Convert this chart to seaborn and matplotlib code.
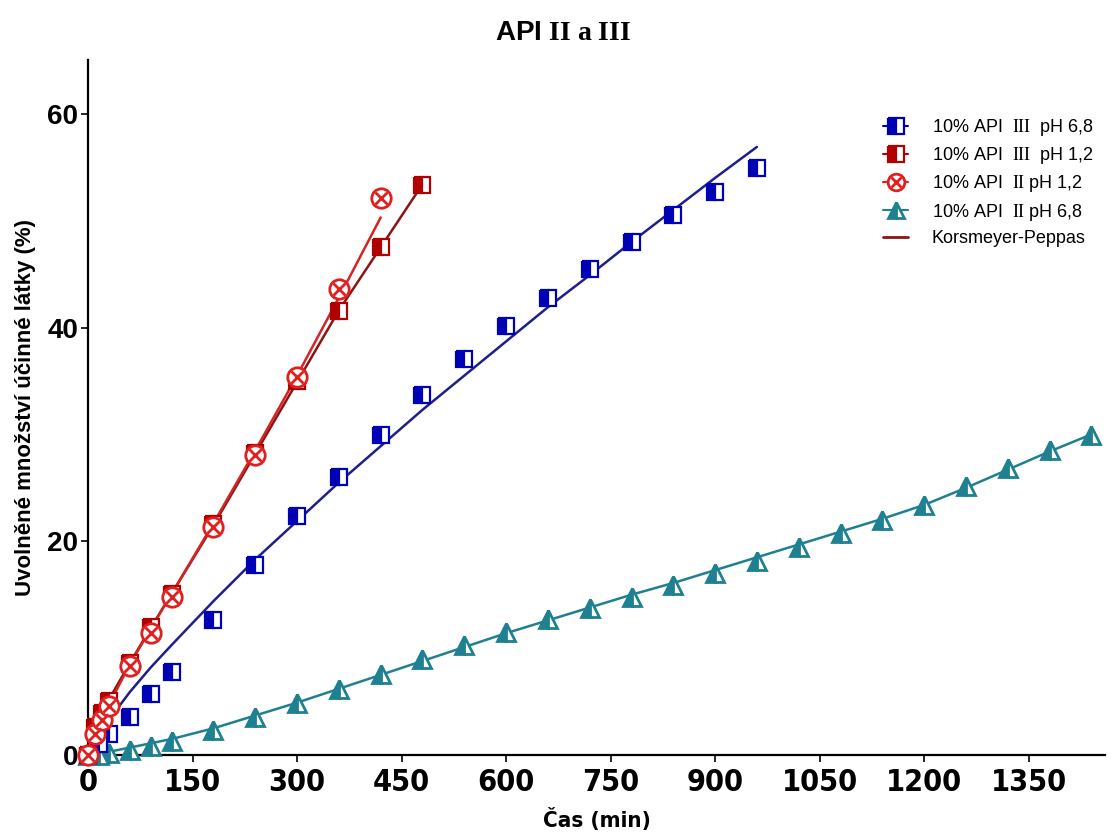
import numpy as np
import pandas as pd
import matplotlib
matplotlib.use("Agg")
import matplotlib.pyplot as plt
import seaborn as sns
from matplotlib.lines import Line2D
from matplotlib.legend_handler import HandlerTuple
from matplotlib import font_manager as fm

# ---------------- data ----------------
t_b = [0, 15, 30, 60, 90, 120, 180, 240, 300, 360, 420, 480, 540, 600, 660, 720, 780, 840, 900, 960]
v_b = [0, 1.0, 2.0, 3.6, 5.7, 7.8, 12.6, 17.8, 22.4, 26.0, 29.9, 33.7, 37.1, 40.1, 42.8, 45.5, 48.0, 50.5, 52.7, 54.9]
fit_b = [0, 1.9, 3.3, 5.9, 8.2, 10.3, 14.4, 18.3, 21.9, 25.5, 28.9, 32.3, 35.5, 38.7, 41.9, 44.9, 48.0, 51.0, 54.0, 56.9]

t_r3 = [0, 10, 20, 30, 60, 90, 120, 180, 240, 300, 360, 420, 480]
v_r3 = [0, 2.6, 3.9, 5.1, 8.6, 12.0, 15.1, 21.6, 28.3, 35.0, 41.5, 47.5, 53.3]
fit_r3 = [0, 2.4, 3.9, 5.2, 8.6, 11.9, 15.1, 21.5, 28.2, 34.9, 41.6, 47.5, 53.4]

t_r2 = [0, 10, 20, 30, 60, 90, 120, 180, 240, 300, 360, 420]
v_r2 = [0, 2.0, 3.3, 4.6, 8.3, 11.4, 14.8, 21.3, 28.1, 35.4, 43.6, 52.1]
fit_r2 = [0, 2.0, 3.4, 4.7, 8.5, 11.8, 15.1, 21.7, 28.5, 35.5, 42.8, 50.3]

t_t = [0, 15, 30, 60, 90, 120, 180, 240, 300, 360, 420, 480, 540, 600, 660, 720, 780, 840,
       900, 960, 1020, 1080, 1140, 1200, 1260, 1320, 1380, 1440]
v_t = [0, 0.05, 0.15, 0.5, 0.8, 1.3, 2.3, 3.6, 4.9, 6.2, 7.6, 9.0, 10.3, 11.5, 12.7, 13.8, 14.8, 15.9,
       17.0, 18.2, 19.5, 20.8, 22.0, 23.4, 25.2, 26.9, 28.5, 29.9]
fit_t = [0, 0.1, 0.3, 0.7, 1.1, 1.5, 2.5, 3.7, 4.9, 6.2, 7.5, 8.8, 10.1, 11.4, 12.6, 13.8, 15.0, 16.1,
         17.3, 18.5, 19.7, 20.9, 22.1, 23.4, 25.0, 26.7, 28.4, 30.0]

labels = [r"10% API  $\mathrm{III}$  pH 6,8",
          r"10% API  $\mathrm{III}$  pH 1,2",
          r"10% API  $\mathrm{II}$ pH 1,2",
          r"10% API  $\mathrm{II}$ pH 6,8",
          "Korsmeyer-Peppas"]
x_ticks = [0, 150, 300, 450, 600, 750, 900, 1050, 1200, 1350]
y_ticks = [0, 20, 40, 60]
title_txt = r"API $\mathbf{II\ a\ III}$"
xlabel_txt = "Čas (min)"
ylabel_txt = "Uvolněné množství účinné látky (%)"

# ---------------- style ----------------
sns.set_theme(style="white")
plt.rcParams["font.family"] = ["Liberation Sans", "DejaVu Sans"]
plt.rcParams["mathtext.fontset"] = "custom"
plt.rcParams["mathtext.rm"] = "Liberation Serif"
plt.rcParams["mathtext.it"] = "Liberation Serif:italic"
plt.rcParams["mathtext.bf"] = "Liberation Serif:bold"
for k in ["text.color", "axes.labelcolor", "xtick.color", "ytick.color"]:
    plt.rcParams[k] = "black"

# condensed face for the x axis, if one is installed
narrow_kw = {"fontfamily": "Liberation Sans"}
for f in fm.fontManager.ttflist:
    if f.name == "Liberation Sans Narrow":
        narrow_kw = {"fontfamily": "Liberation Sans Narrow"}
        break
else:
    for f in fm.fontManager.ttflist:
        if f.name == "DejaVu Sans" and str(f.stretch) in ("condensed", "semi-condensed") and f.weight in ("bold", 700):
            narrow_kw = {"fontfamily": "DejaVu Sans", "fontstretch": "condensed"}
            break

C_BLUE = "#0000B4"
C_BLUE_L = "#1E1E8C"
C_DRED = "#B00000"
C_DRED_L = "#8B1414"
C_RED = "#E0201E"
C_RED_L = "#D42424"
C_TEAL = "#1E8090"

fig = plt.figure(figsize=(11.16, 8.38), dpi=100)
ax = fig.add_axes([0.0789, 0.099, 0.9115, 0.829])

df = pd.DataFrame
# fit lines
for t, f, c in [(t_t, fit_t, C_TEAL), (t_b, fit_b, C_BLUE_L), (t_r3, fit_r3, C_DRED_L), (t_r2, fit_r2, C_RED_L)]:
    sns.lineplot(data=df({"t": t, "v": f}), x="t", y="v", ax=ax, color=c, lw=1.8,
                 estimator=None, sort=False, legend=False, zorder=2)

# markers
def marks(t, v, **kw):
    sns.lineplot(data=df({"t": t, "v": v}), x="t", y="v", ax=ax, linestyle="",
                 estimator=None, sort=False, legend=False, clip_on=False, zorder=3, **kw)

marks(t_t, v_t, color=C_TEAL, marker="^", markersize=13, fillstyle="left",
      markerfacecolor=C_TEAL, markerfacecoloralt="white", markeredgecolor=C_TEAL, markeredgewidth=2.0)
marks(t_b, v_b, color=C_BLUE, marker="s", markersize=12, fillstyle="left",
      markerfacecolor=C_BLUE, markerfacecoloralt="white", markeredgecolor=C_BLUE, markeredgewidth=1.6)
marks(t_r3, v_r3, color=C_DRED, marker="s", markersize=12, fillstyle="left",
      markerfacecolor=C_DRED, markerfacecoloralt="white", markeredgecolor=C_DRED, markeredgewidth=1.6)
marks(t_r2, v_r2, color=C_RED, marker="o", markersize=14, markerfacecolor="white",
      markeredgecolor=C_RED, markeredgewidth=2.0)
marks(t_r2, v_r2, color=C_RED, marker="x", markersize=8, markeredgecolor=C_RED, markeredgewidth=2.0)

ax.set_xlim(0, 1460)
ax.set_ylim(0, 65)
ax.set_xticks(x_ticks)
ax.set_xticklabels([str(x) for x in x_ticks], fontweight="bold", fontsize=22, **narrow_kw)
ax.set_yticks(y_ticks)
ax.set_yticklabels([str(y) for y in y_ticks], fontweight="bold", fontsize=20)
ax.tick_params(axis="both", direction="out", length=5, width=1.2, color="black",
               bottom=True, left=True)
ax.tick_params(axis="y", pad=2)
ax.tick_params(axis="x", pad=4)
for s in ["top", "right"]:
    ax.spines[s].set_visible(False)
for s in ["left", "bottom"]:
    ax.spines[s].set_color("black")
    ax.spines[s].set_linewidth(1.6)

ax.set_xlabel(xlabel_txt, fontweight="bold", fontsize=16, labelpad=8, **narrow_kw)
ax.set_ylabel(ylabel_txt, fontweight="bold", fontsize=16, labelpad=8)
fig.text(0.5045, 0.961, title_txt, ha="center", va="center", fontsize=20, fontweight="bold")

# legend
hb = Line2D([], [], color=C_BLUE, marker="s", ms=11, fillstyle="left", markerfacecolor=C_BLUE,
            markerfacecoloralt="white", markeredgecolor=C_BLUE, mew=1.6, lw=1.5)
hr3 = Line2D([], [], color=C_DRED, marker="s", ms=11, fillstyle="left", markerfacecolor=C_DRED,
             markerfacecoloralt="white", markeredgecolor=C_DRED, mew=1.6, lw=1.5)
hr2a = Line2D([], [], color=C_RED, marker="o", ms=12, markerfacecolor="white", markeredgecolor=C_RED, mew=2.0, lw=1.5)
hr2b = Line2D([], [], color=C_RED, marker="x", ms=7, markeredgecolor=C_RED, mew=2.0, lw=0)
ht = Line2D([], [], color=C_TEAL, marker="^", ms=12, fillstyle="left", markerfacecolor=C_TEAL,
            markerfacecoloralt="white", markeredgecolor=C_TEAL, mew=2.0, lw=1.5)
hk = Line2D([], [], color=C_DRED_L, lw=2)
leg = ax.legend([hb, hr3, (hr2a, hr2b), ht, hk], labels,
                handler_map={tuple: HandlerTuple(ndivide=1)},
                loc="upper left", bbox_to_anchor=(874 / 1116, 1 - 108 / 838),
                bbox_transform=fig.transFigure, frameon=False, fontsize=13,
                handlelength=1.4, handletextpad=1.3, labelspacing=0.4, borderpad=0)

fig.savefig("out.png", dpi=100)
